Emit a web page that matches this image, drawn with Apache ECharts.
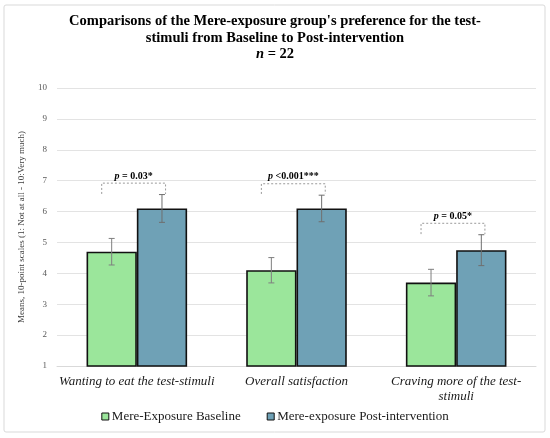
<!DOCTYPE html>
<html>
<head>
<meta charset="utf-8">
<script src="https://cdn.jsdelivr.net/npm/echarts@6/dist/echarts.min.js"></script>
<style>
html, body { margin: 0; padding: 0; background: #fff; }
#chart { width: 550px; height: 438px; }
</style>
</head>
<body>
<div id="chart"></div>
<script>
// data
const categories = ['Wanting to eat the test-stimuli', 'Overall satisfaction', 'Craving more of the test-\nstimuli'];
const baseline = [4.7, 4.1, 3.7];
const baselineErr = [0.43, 0.41, 0.43];
const post = [6.1, 6.1, 4.75];
const postErr = [0.45, 0.43, 0.5];
const pTexts = ['= 0.03*', '<0.001***', '= 0.05*'];
const bracketTop = [6.92, 6.9, 5.62];
const bracketLeg = [6.57, 6.57, 5.27];
const yTicks = [1, 10, 1]; // min, max, step

const serif = '"Liberation Serif", "Times New Roman", serif';
const barCatGap = 0.37;

// error bar for one group; side -1 = left bar, +1 = right bar
function errorBar(side, color) {
    return function (params, api) {
        const i = api.value(0);
        const v = api.value(1);
        const e = api.value(2);
        const bw = api.size([1, 0])[0];
        const barW = bw * (1 - barCatGap) / 2;
        const x = api.coord([i, v])[0] + side * barW / 2;
        const hi = api.coord([i, v + e])[1];
        const lo = api.coord([i, v - e])[1];
        const st = { stroke: color, lineWidth: 1 };
        return {
            type: 'group',
            children: [
                { type: 'line', shape: { x1: x, y1: hi, x2: x, y2: lo }, style: st },
                { type: 'line', shape: { x1: x - 3, y1: hi, x2: x + 3, y2: hi }, style: st },
                { type: 'line', shape: { x1: x - 3, y1: lo, x2: x + 3, y2: lo }, style: st }
            ]
        };
    };
}

function bracket(params, api) {
    const i = api.value(0);
    const top = api.coord([i, api.value(1)]);
    const legY = api.coord([i, api.value(2)])[1];
    const bw = api.size([1, 0])[0];
    const x1 = top[0] - 0.22 * bw;
    const x2 = top[0] + 0.18 * bw;
    return {
        type: 'group',
        children: [
            {
                type: 'polyline',
                shape: { points: [[x1, legY], [x1, top[1]], [x2, top[1]], [x2, legY]] },
                style: { stroke: '#9a9a9a', lineWidth: 1, lineDash: [2, 2], fill: null }
            },
            {
                type: 'text',
                x: (x1 + x2) / 2,
                y: top[1] - 2,
                style: {
                    text: '{i|p} ' + pTexts[i],
                    align: 'center',
                    verticalAlign: 'bottom',
                    font: 'bold 10px ' + serif,
                    fill: '#000',
                    rich: { i: { fontStyle: 'italic', fontWeight: 'bold', fontSize: 10, fontFamily: serif } }
                }
            }
        ]
    };
}

const chart = echarts.init(document.getElementById('chart'));
chart.setOption({
    animation: false,
    textStyle: { fontFamily: serif },
    graphic: [
        {
            type: 'rect',
            shape: { x: 4, y: 5, width: 541, height: 427, r: 2 },
            style: { fill: null, stroke: '#d9d9d9', lineWidth: 1 },
            silent: true
        },
        {
            type: 'text',
            x: 275,
            y: 13,
            silent: true,
            style: {
                text: 'Comparisons of the Mere-exposure group\'s preference for the test-\nstimuli from Baseline to Post-intervention\n{i|n} = 22',
                align: 'center',
                verticalAlign: 'top',
                font: 'bold 14.5px ' + serif,
                lineHeight: 16.5,
                fill: '#000',
                rich: { i: { fontStyle: 'italic', fontWeight: 'bold', fontSize: 14.5, fontFamily: serif, lineHeight: 16.5 } }
            }
        }
    ],
    legend: {
        top: 410,
        left: 'center',
        itemWidth: 7,
        itemHeight: 7,
        itemGap: 26,
        icon: 'rect',
        padding: 0,
        itemStyle: { borderColor: '#111', borderWidth: 1 },
        textStyle: { fontFamily: serif, fontSize: 13, color: '#1a1a1a', padding: [0, 0, 0, -2] },
        data: ['Mere-Exposure Baseline', 'Mere-exposure Post-intervention']
    },
    grid: { left: 57, right: 14, top: 88, bottom: 72 },
    xAxis: {
        type: 'category',
        data: categories,
        axisTick: { show: false },
        axisLine: { lineStyle: { color: '#d9d9d9' } },
        axisLabel: {
            fontFamily: serif,
            fontStyle: 'italic',
            fontSize: 13,
            color: '#1a1a1a',
            margin: 8,
            lineHeight: 15,
            interval: 0
        }
    },
    yAxis: {
        type: 'value',
        min: yTicks[0],
        max: yTicks[1],
        interval: yTicks[2],
        name: 'Means, 10-point scales (1: Not at all - 10:Very much)',
        nameLocation: 'middle',
        nameRotate: 90,
        nameGap: 31,
        nameTextStyle: { fontFamily: serif, fontSize: 9, color: '#404040' },
        axisLabel: { fontFamily: serif, fontSize: 9, color: '#595959', margin: 10 },
        splitLine: { lineStyle: { color: '#e3e3e3' } },
        axisLine: { show: false },
        axisTick: { show: false }
    },
    series: [
        {
            name: 'Mere-Exposure Baseline',
            type: 'bar',
            data: baseline,
            barGap: '0%',
            barCategoryGap: (barCatGap * 100) + '%',
            itemStyle: { color: '#9be69b', borderColor: '#111', borderWidth: 1.6 }
        },
        {
            name: 'Mere-exposure Post-intervention',
            type: 'bar',
            data: post,
            barGap: '0%',
            barCategoryGap: (barCatGap * 100) + '%',
            itemStyle: { color: '#6fa1b6', borderColor: '#111', borderWidth: 1.6 }
        },
        {
            type: 'custom',
            renderItem: errorBar(-1, '#7f7f7f'),
            data: baseline.map((v, i) => [i, v, baselineErr[i]]),
            z: 10,
            silent: true
        },
        {
            type: 'custom',
            renderItem: errorBar(1, '#6f6f6f'),
            data: post.map((v, i) => [i, v, postErr[i]]),
            z: 10,
            silent: true
        },
        {
            type: 'custom',
            renderItem: bracket,
            data: bracketTop.map((v, i) => [i, v, bracketLeg[i]]),
            z: 10,
            silent: true
        }
    ]
});
</script>
</body>
</html>
